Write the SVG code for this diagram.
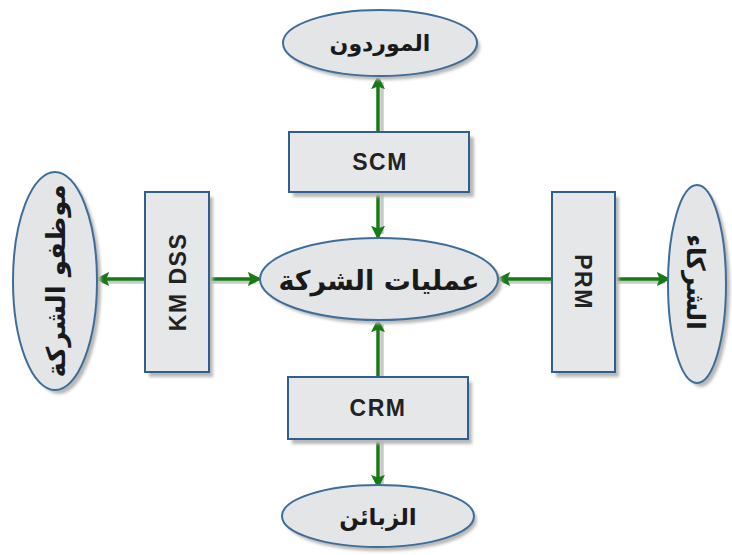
<svg xmlns="http://www.w3.org/2000/svg" width="732" height="555" viewBox="0 0 732 555">
<defs>
<style>
.ell{fill:#e4e5e7;stroke:#3d6d99;stroke-width:2}
.box{fill:#e6e7e9;stroke:#2f5f8f;stroke-width:2}
.sh{fill:#b8b8b8}
.ln{stroke:#177a17;stroke-width:3.5;fill:none;marker-end:url(#ah)}
.lsh{stroke:#c8c8c8;stroke-width:3.5;fill:none}
.lat{font-family:"Liberation Sans",Arial,sans-serif;font-weight:bold;font-size:23px;fill:#222;text-anchor:middle;letter-spacing:1.5px}
.ar{font-family:"DejaVu Sans",sans-serif;font-weight:bold;font-size:22px;fill:#1a1a1a;text-anchor:middle}
</style>
<marker id="ah" markerWidth="4" markerHeight="4" refX="3.2" refY="2" orient="auto" markerUnits="strokeWidth">
<path d="M0,0 L4,2 L0,4 L0.8,2 Z" fill="#177a17"/>
</marker>
<filter id="blur" x="-20%" y="-20%" width="140%" height="140%"><feGaussianBlur stdDeviation="1.8"/></filter>
</defs>
<rect width="732" height="555" fill="#ffffff"/>
<g id="connectors">
<line class="lsh" x1="382" y1="132" x2="382" y2="82"/>
<line class="lsh" x1="382" y1="194" x2="382" y2="234"/>
<line class="lsh" x1="382" y1="379" x2="382" y2="324"/>
<line class="lsh" x1="382" y1="441" x2="382" y2="484"/>
<line class="lsh" x1="145" y1="282" x2="102" y2="282"/>
<line class="lsh" x1="211" y1="282" x2="256" y2="282"/>
<line class="lsh" x1="552" y1="282" x2="503" y2="282"/>
<line class="lsh" x1="617" y1="282" x2="665" y2="282"/>
<line class="ln" x1="378" y1="132" x2="378" y2="78"/>
<line class="ln" x1="378" y1="192" x2="378" y2="237"/>
<line class="ln" x1="378" y1="377" x2="378" y2="321"/>
<line class="ln" x1="378" y1="439" x2="378" y2="486"/>
<line class="ln" x1="145" y1="279" x2="98" y2="279"/>
<line class="ln" x1="209" y1="279" x2="259" y2="279"/>
<line class="ln" x1="552" y1="279" x2="499" y2="279"/>
<line class="ln" x1="615" y1="279" x2="668" y2="279"/>
</g>
<g id="suppliers">
<ellipse class="sh" cx="383" cy="47" rx="97" ry="33" filter="url(#blur)"/>
<ellipse class="ell" cx="380" cy="43" rx="97" ry="33"/>
<text class="ar" x="380" y="51" style="font-size:22px">الموردون</text>
</g>
<g id="scm">
<rect class="sh" x="293" y="137" width="181" height="60" filter="url(#blur)"/>
<rect class="box" x="289" y="132" width="180" height="60"/>
<text class="lat" x="380" y="170">SCM</text>
</g>
<g id="operations">
<ellipse class="sh" cx="383" cy="283" rx="119" ry="41" filter="url(#blur)"/>
<ellipse class="ell" cx="379" cy="279" rx="119" ry="41"/>
<text class="ar" x="379" y="290" style="font-size:27px">عمليات الشركة</text>
</g>
<g id="kmdss">
<rect class="sh" x="149" y="197" width="64" height="180" filter="url(#blur)"/>
<rect class="box" x="145" y="192" width="64" height="180"/>
<text class="lat" transform="translate(186,282) rotate(-90)" x="0" y="0">KM DSS</text>
</g>
<g id="employees">
<ellipse class="sh" cx="59" cy="285" rx="42" ry="109" filter="url(#blur)"/>
<ellipse class="ell" cx="55" cy="281" rx="42" ry="109"/>
<text class="ar" transform="translate(65,281) rotate(-90)" x="0" y="0" style="font-size:26px">موظفو الشركة</text>
</g>
<g id="prm">
<rect class="sh" x="556" y="197" width="63" height="180" filter="url(#blur)"/>
<rect class="box" x="552" y="192" width="63" height="180"/>
<text class="lat" transform="translate(575,282) rotate(90)" x="0" y="0">PRM</text>
</g>
<g id="partners">
<ellipse class="sh" cx="701" cy="288" rx="29" ry="99" filter="url(#blur)"/>
<ellipse class="ell" cx="697" cy="284" rx="29" ry="99"/>
<text class="ar" transform="translate(687,282) rotate(90)" x="0" y="0" style="font-size:25px">الشركاء</text>
</g>
<g id="crm">
<rect class="sh" x="292" y="382" width="180" height="62" filter="url(#blur)"/>
<rect class="box" x="288" y="377" width="180" height="62"/>
<text class="lat" x="378" y="416">CRM</text>
</g>
<g id="customers">
<ellipse class="sh" cx="381" cy="520" rx="96" ry="31" filter="url(#blur)"/>
<ellipse class="ell" cx="378" cy="516" rx="96" ry="31"/>
<text class="ar" x="378" y="525" style="font-size:23px">الزبائن</text>
</g>
</svg>
